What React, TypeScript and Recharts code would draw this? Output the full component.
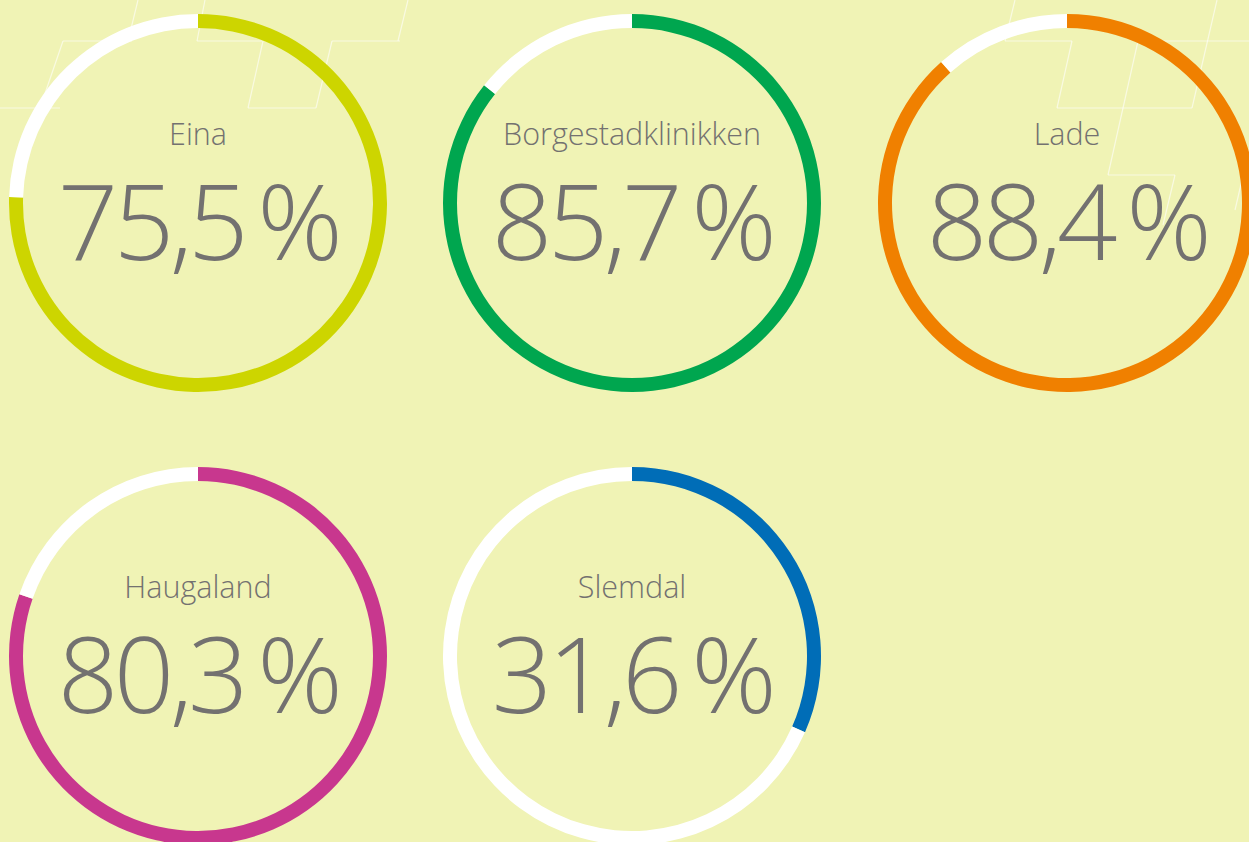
import React from 'react';
import { PieChart, Pie, Cell } from 'recharts';

// ---- data ----
const clinics = ['Eina', 'Borgestadklinikken', 'Lade', 'Haugaland', 'Slemdal'];
const percentages = [75.5, 85.7, 88.4, 80.3, 31.6];
const valueLabels = ['75,5\u2009%', '85,7\u2009%', '88,4\u2009%', '80,3\u2009%', '31,6\u2009%'];
const colors = ['#CDD500', '#00A64F', '#F08000', '#C8378E', '#006DB7'];

// ---- layout ----
const W = 1249;
const H = 842;
const centersX = [198, 632, 1067, 198, 632];
const centersY = [203, 203, 203, 656, 656];
const INNER = 175;
const OUTER = 189;
const BG = '#F0F3B5';
const TEXT = '#737170';
const FONT = '"Open Sans", "Segoe UI", sans-serif';

// decorative background line pattern (not data)
const decor: [number, number, number, number][] = [
  [138, 0, 128, 41], [63, 41, 132, 41], [63, 41, 40, 108], [0, 108, 60, 108],
  [205, 0, 197, 41], [197, 41, 262, 41], [263, 41, 248, 108], [248, 108, 316, 108],
  [332, 41, 316, 108], [332, 41, 400, 41], [408, 0, 398, 41],
  [1015, 0, 1005, 41], [1005, 41, 1072, 41], [1072, 41, 1057, 108], [1057, 108, 1192, 108],
  [1138, 41, 1249, 41], [1138, 41, 1108, 175], [1108, 175, 1175, 175], [1175, 175, 1163, 225],
  [1217, 0, 1192, 108], [1249, 150, 1235, 210],
];

export default function App() {
  return (
    <div
      style={{
        position: 'absolute',
        left: 0,
        top: 0,
        width: W,
        height: H,
        background: BG,
        overflow: 'hidden',
      }}
    >
      <svg width={W} height={H} style={{ position: 'absolute', left: 0, top: 0 }}>
        {decor.map((d, i) => (
          <line key={i} x1={d[0]} y1={d[1]} x2={d[2]} y2={d[3]} stroke="#FFFFFF" strokeOpacity={0.6} strokeWidth={1.2} />
        ))}
      </svg>
      <div style={{ position: 'absolute', left: 0, top: 0 }}>
        <PieChart width={W} height={H} margin={{ top: 0, right: 0, bottom: 0, left: 0 }}>
          {clinics.map((name, i) => (
            <Pie
              key={name}
              data={[
                { name: 'value', value: percentages[i] },
                { name: 'rest', value: 100 - percentages[i] },
              ]}
              dataKey="value"
              cx={centersX[i]}
              cy={centersY[i]}
              innerRadius={INNER}
              outerRadius={OUTER}
              startAngle={90}
              endAngle={-270}
              stroke="none"
              isAnimationActive={false}
            >
              <Cell fill={colors[i]} />
              <Cell fill="#FFFFFF" />
            </Pie>
          ))}
          {clinics.map((name, i) => (
            <text
              key={'n' + name}
              x={centersX[i]}
              y={centersY[i] - 58}
              textAnchor="middle"
              fill={TEXT}
              fontFamily={FONT}
              fontWeight={300}
              fontSize={30.5}
            >
              {name}
            </text>
          ))}
          {clinics.map((name, i) => (
            <text
              key={'v' + name}
              x={centersX[i]}
              y={centersY[i] + 57}
              textAnchor="middle"
              fill={TEXT}
              fontFamily={FONT}
              fontWeight={300}
              fontSize={106}
              letterSpacing={-4.5}
            >
              {valueLabels[i]}
            </text>
          ))}
        </PieChart>
      </div>
    </div>
  );
}
